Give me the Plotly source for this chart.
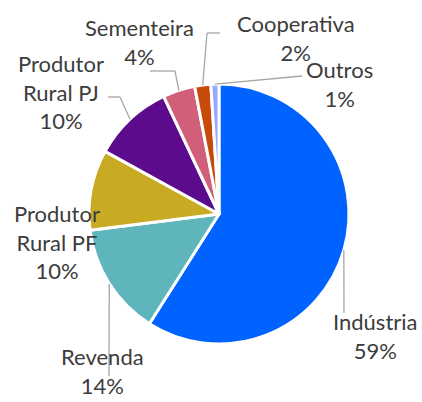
import math
import plotly.graph_objects as go

# ---- data ----
labels = ["Indústria", "Revenda", "Produtor Rural PF", "Produtor Rural PJ",
          "Sementeira", "Cooperativa", "Outros"]
label_lines = ["Indústria", "Revenda", "Produtor<br>Rural PF", "Produtor<br>Rural PJ",
               "Sementeira", "Cooperativa", "Outros"]
values = [59, 14, 10, 10, 4, 2, 1]
colors = ["#0062FF", "#5EB5BC", "#C9AB23", "#5B0B8C", "#D15F7A", "#C84A0A", "#93A9FF"]

# ---- layout (pixels) ----
W, H = 422, 402
CX, CY, R = 219, 214, 130
# label text centers
label_pos = [(375, 336), (102, 371), (57, 242), (61, 92), (139, 42), (296, 38), (339, 84)]
# leader line knee/end points (after the anchor on the pie edge)
leaders = [[(344, 313)], [(109, 376)], [], [(120, 97), (108, 97)],
           [(175, 71), (150, 71)], [(207, 33), (220, 33)], [(302, 76)]]

FONT = "Lato"
TEXT_COLOR = "#3C3C3C"
LINE_COLOR = "#A6A6A6"

def px(x):
    return x / W

def py(y):
    return 1 - y / H

total = sum(values)
fig = go.Figure(go.Pie(
    labels=labels, values=values, sort=False, direction="clockwise", rotation=0,
    marker=dict(colors=colors, line=dict(color="white", width=3)),
    textinfo="none", hoverinfo="label+percent", showlegend=False,
    domain=dict(x=[px(CX - R), px(CX + R)], y=[py(CY + R), py(CY - R)]),
))

shapes = []
annotations = []
cum = 0.0
for lab, v, (lx, ly), pts in zip(label_lines, values, label_pos, leaders):
    mid = (cum + v / 2) / total
    cum += v
    ang = math.radians(90 - 360 * mid)
    ax, ay = CX + R * math.cos(ang), CY - R * math.sin(ang)
    prev = (ax, ay)
    for p in pts:
        shapes.append(dict(type="line", xref="paper", yref="paper",
                           x0=px(prev[0]), y0=py(prev[1]), x1=px(p[0]), y1=py(p[1]),
                           line=dict(color=LINE_COLOR, width=1.3)))
        prev = p
    pct = f"{round(100 * v / total)}%"
    annotations.append(dict(text=f"{lab}<br>{pct}", x=px(lx), y=py(ly),
                            xref="paper", yref="paper", xanchor="center", yanchor="middle",
                            showarrow=False, align="center",
                            font=dict(family=FONT, size=22, color=TEXT_COLOR)))

fig.update_layout(width=W, height=H, margin=dict(l=0, r=0, t=0, b=0),
                  paper_bgcolor="white", plot_bgcolor="white",
                  shapes=shapes, annotations=annotations)
fig.write_html("out.html", config={"displayModeBar": False},
               post_script="document.body.style.margin='0px';document.body.style.overflow='hidden';")
